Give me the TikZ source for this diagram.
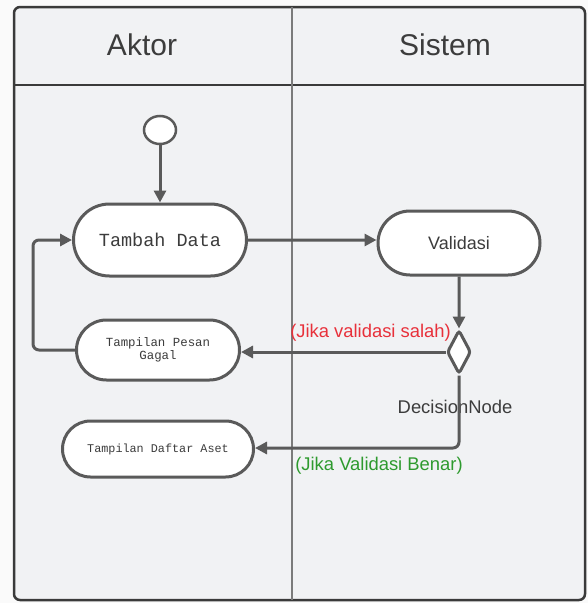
\documentclass[tikz,border=0pt]{standalone}
\usepackage{fontspec}
\setmainfont{Liberation Sans}
\setmonofont{Liberation Mono}
\usetikzlibrary{arrows.meta,shapes.geometric,shapes.misc}
\definecolor{lanebg}{HTML}{F1F2F4}
\definecolor{pagebg}{HTML}{FAFAFA}
\definecolor{edge}{HTML}{5A5A5A}
\definecolor{frame}{HTML}{3A3A3A}
\definecolor{falsered}{HTML}{E8303A}
\definecolor{truegreen}{HTML}{2E9A2E}
\definecolor{ink}{HTML}{3C3C3C}
\begin{document}
\begin{tikzpicture}[x=1pt,y=-1pt,
  action/.style={draw=edge,line width=3pt,fill=white,rounded rectangle,
    minimum width=#1,inner sep=0pt,text=ink},
  flow/.style={draw=edge,line width=3pt,-{Triangle[length=12pt,width=12pt]},rounded corners=6pt},
  lanetitle/.style={font=\fontsize{30}{34}\selectfont,text=ink},
  guard/.style={font=\fontsize{18.4}{22}\selectfont}]
% page and swimlane frame
\fill[pagebg] (0,0) rectangle (588,603);
\useasboundingbox (0,0) rectangle (588,603);
\draw[frame,fill=lanebg,line width=2.5pt,rounded corners=6pt] (14,7) rectangle (585,600);
\draw[frame,line width=2.5pt] (14,85) -- (585,85);
\draw[edge!80,line width=2.5pt] (292,7) -- (292,600);
\node[lanetitle] (aktor) at (142,45) {Aktor};
\node[lanetitle] (sistem) at (445,45) {Sistem};
% nodes
\node[draw=edge,line width=2.5pt,fill=white,ellipse,minimum width=32pt,minimum height=28pt,inner sep=0pt] (start) at (160,130) {};
\node[action=173pt,minimum height=72pt,font=\ttfamily\fontsize{18.5}{22}\selectfont] (tambah) at (160,240) {Tambah Data};
\node[action=162pt,minimum height=64pt,font=\fontsize{18}{21}\selectfont] (validasi) at (459,243) {Validasi};
\node[draw=edge,line width=3pt,fill=white,diamond,minimum width=24pt,minimum height=44pt,inner sep=0pt,rounded corners=3pt] (dec) at (459,352) {};
\node[action=163pt,minimum height=60pt,font=\ttfamily\fontsize{12.4}{12.5}\selectfont,align=center] (gagal) at (158,350) {Tampilan Pesan\\Gagal};
\node[action=191pt,minimum height=56pt,font=\ttfamily\fontsize{11.8}{14}\selectfont] (aset) at (158,449) {Tampilan Daftar Aset};
% labels
\node[guard,text=falsered,anchor=base east,inner sep=0pt] (lsalah) at (451,337) {(Jika validasi salah)};
\node[guard,text=ink] (ldec) at (455,407) {DecisionNode};
\node[guard,text=truegreen] (lbenar) at (379,466) {(Jika Validasi Benar)};
% connectors
\coordinate (loopL) at (33,350);
\coordinate (turn) at (459,448);
\draw[flow] (start) -- (tambah);
\draw[flow] (tambah) -- (validasi.west |- tambah);
\draw[flow] (validasi) -- (dec.north);
\draw[flow] (dec.west) -- (dec.west -| gagal.east);
\draw[flow] (gagal.west) -- (loopL) |- (tambah.west);
\draw[flow] (dec.south) -- (turn) -- (aset.east |- turn);
\end{tikzpicture}
\end{document}
